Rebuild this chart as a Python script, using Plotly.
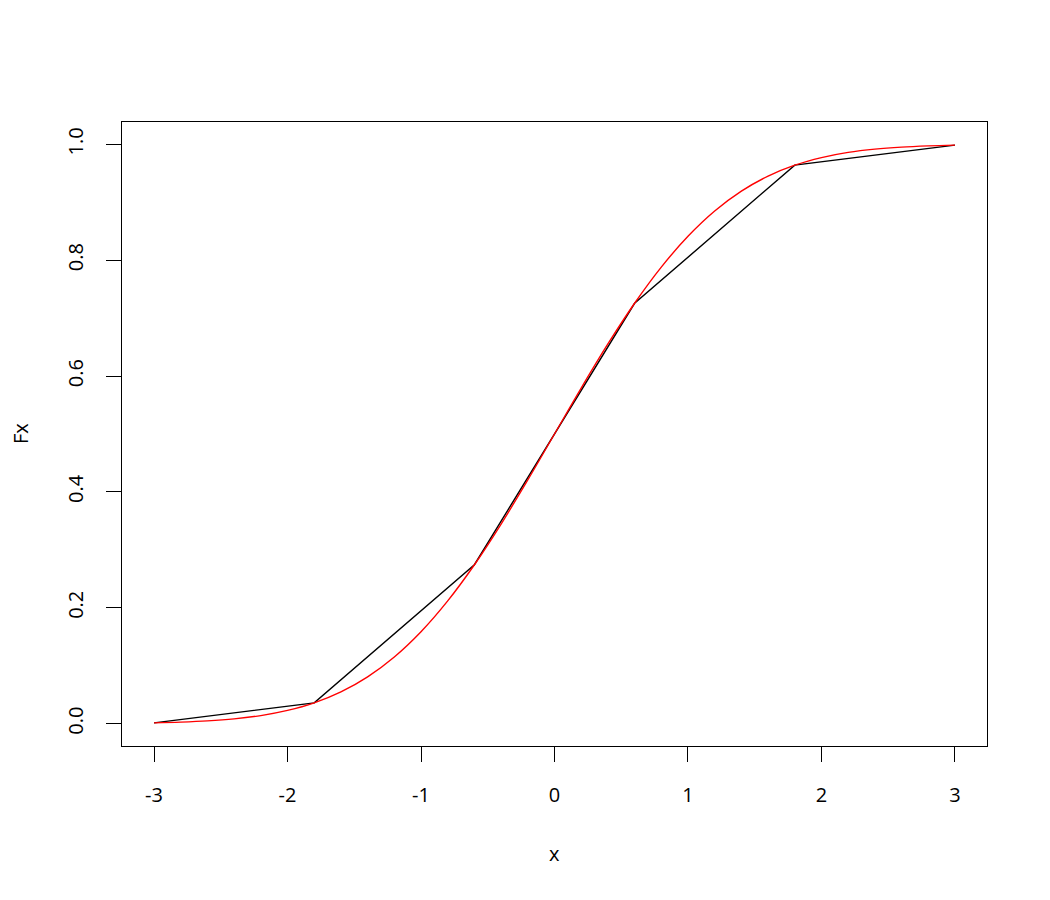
import plotly.graph_objects as go

# Black polyline (sample points)
x_pts = [-3.0, -1.8, -0.6, 0.6, 1.8, 3.0]
fx_pts = [0.0013, 0.0359, 0.2743, 0.7257, 0.9641, 0.9987]

# Red smooth curve (read at 0.2 steps)
x_curve = [-3.0, -2.8, -2.6, -2.4, -2.2, -2.0, -1.8, -1.6, -1.4, -1.2, -1.0,
           -0.8, -0.6, -0.4, -0.2, 0.0, 0.2, 0.4, 0.6, 0.8, 1.0,
           1.2, 1.4, 1.6, 1.8, 2.0, 2.2, 2.4, 2.6, 2.8, 3.0]
fx_curve = [0.0013, 0.0026, 0.0047, 0.0082, 0.0139, 0.0228, 0.0359, 0.0548,
            0.0808, 0.1151, 0.1587, 0.2119, 0.2743, 0.3446, 0.4207, 0.5000,
            0.5793, 0.6554, 0.7257, 0.7881, 0.8413, 0.8849, 0.9192, 0.9452,
            0.9641, 0.9772, 0.9861, 0.9918, 0.9953, 0.9974, 0.9987]

x_ticks = [-3, -2, -1, 0, 1, 2, 3]
x_ticktext = ["-3", "-2", "-1", "0", "1", "2", "3"]
y_ticks = [0.0, 0.2, 0.4, 0.6, 0.8, 1.0]
y_ticktext = ["0.0", "0.2", "0.4", "0.6", "0.8", "1.0"]
x_label = "x"
y_label = "Fx"

font_family = "Open Sans"
fs = 20

fig = go.Figure()
fig.add_trace(go.Scatter(x=x_pts, y=fx_pts, mode="lines",
                         line=dict(color="black", width=1.4), showlegend=False))
fig.add_trace(go.Scatter(x=x_curve, y=fx_curve, mode="lines",
                         line=dict(color="red", width=1.4, shape="spline"),
                         showlegend=False))

fig.update_layout(
    width=1050, height=900,
    margin=dict(l=114, r=71, t=114, b=162, pad=0),
    paper_bgcolor="white", plot_bgcolor="white",
    font=dict(family=font_family, size=fs, color="black"),
    xaxis=dict(range=[-3.24, 3.24], tickvals=x_ticks, ticktext=x_ticktext,
               ticks="outside", ticklen=15,
               tickwidth=1, tickcolor="black", showline=True, linecolor="black",
               linewidth=1.3, mirror=True, showgrid=False, zeroline=False,
               ticklabelstandoff=16),
    yaxis=dict(range=[-0.0386, 1.0386], tickvals=y_ticks, ticktext=y_ticktext,
               tickangle=-90, ticks="outside", ticklen=15, tickwidth=1,
               tickcolor="black", showline=True, linecolor="black", linewidth=1.3,
               mirror=True, showgrid=False, zeroline=False, ticklabelstandoff=15),
    annotations=[
        dict(text=x_label, xref="paper", yref="paper", x=0.5, y=-(853 - 746) / 624,
             xanchor="center", yanchor="middle", showarrow=False,
             font=dict(size=fs)),
        dict(text=y_label, xref="paper", yref="paper", x=-(122 - 20) / 865, y=0.5,
             xanchor="center", yanchor="middle", textangle=-90, showarrow=False,
             font=dict(size=fs)),
    ],
)

fig.write_html("out.html")
